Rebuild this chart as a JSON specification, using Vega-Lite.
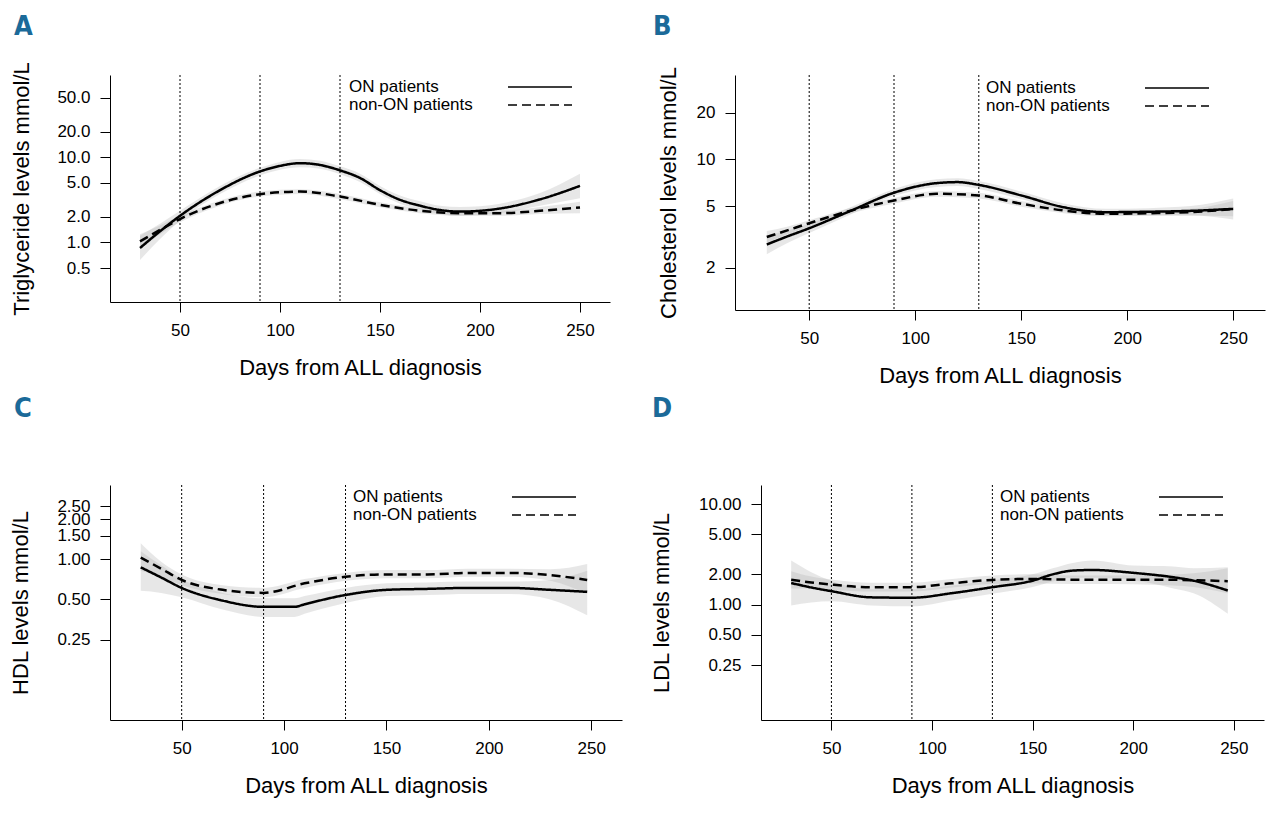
{
  "$schema": "https://vega.github.io/schema/vega-lite/v6.json",
  "background": "white",
  "padding": {"left": 8, "top": 12, "right": 5, "bottom": 5},
  "datasets": {
    "tg": [
      {"group": "ON patients", "day": 30, "est": 0.86, "lower": 0.62, "upper": 1.2},
      {"group": "ON patients", "day": 40, "est": 1.35, "lower": 1.1, "upper": 1.65},
      {"group": "ON patients", "day": 50, "est": 2.05, "lower": 1.8, "upper": 2.35},
      {"group": "ON patients", "day": 70, "est": 4.1, "lower": 3.7, "upper": 4.6},
      {"group": "ON patients", "day": 90, "est": 6.8, "lower": 6.1, "upper": 7.5},
      {"group": "ON patients", "day": 100, "est": 7.9, "lower": 7.1, "upper": 8.8},
      {"group": "ON patients", "day": 110, "est": 8.5, "lower": 7.6, "upper": 9.5},
      {"group": "ON patients", "day": 120, "est": 8.1, "lower": 7.3, "upper": 9.1},
      {"group": "ON patients", "day": 130, "est": 7.0, "lower": 6.3, "upper": 7.8},
      {"group": "ON patients", "day": 140, "est": 5.7, "lower": 5.1, "upper": 6.4},
      {"group": "ON patients", "day": 150, "est": 4.1, "lower": 3.7, "upper": 4.6},
      {"group": "ON patients", "day": 160, "est": 3.16, "lower": 2.85, "upper": 3.55},
      {"group": "ON patients", "day": 170, "est": 2.7, "lower": 2.45, "upper": 3.05},
      {"group": "ON patients", "day": 180, "est": 2.4, "lower": 2.15, "upper": 2.7},
      {"group": "ON patients", "day": 190, "est": 2.3, "lower": 2.05, "upper": 2.6},
      {"group": "ON patients", "day": 200, "est": 2.35, "lower": 2.1, "upper": 2.65},
      {"group": "ON patients", "day": 210, "est": 2.5, "lower": 2.2, "upper": 2.85},
      {"group": "ON patients", "day": 230, "est": 3.2, "lower": 2.7, "upper": 3.8},
      {"group": "ON patients", "day": 250, "est": 4.6, "lower": 3.3, "upper": 6.4},
      {"group": "non-ON patients", "day": 30, "est": 1.03, "lower": 0.85, "upper": 1.25},
      {"group": "non-ON patients", "day": 40, "est": 1.4, "lower": 1.25, "upper": 1.58},
      {"group": "non-ON patients", "day": 50, "est": 1.88, "lower": 1.72, "upper": 2.05},
      {"group": "non-ON patients", "day": 70, "est": 2.9, "lower": 2.7, "upper": 3.1},
      {"group": "non-ON patients", "day": 90, "est": 3.68, "lower": 3.45, "upper": 3.95},
      {"group": "non-ON patients", "day": 110, "est": 3.95, "lower": 3.7, "upper": 4.2},
      {"group": "non-ON patients", "day": 130, "est": 3.45, "lower": 3.2, "upper": 3.7},
      {"group": "non-ON patients", "day": 150, "est": 2.76, "lower": 2.58, "upper": 2.95},
      {"group": "non-ON patients", "day": 170, "est": 2.35, "lower": 2.2, "upper": 2.52},
      {"group": "non-ON patients", "day": 190, "est": 2.2, "lower": 2.05, "upper": 2.36},
      {"group": "non-ON patients", "day": 210, "est": 2.2, "lower": 2.05, "upper": 2.36},
      {"group": "non-ON patients", "day": 230, "est": 2.35, "lower": 2.15, "upper": 2.6},
      {"group": "non-ON patients", "day": 250, "est": 2.57, "lower": 2.2, "upper": 3.0}
    ],
    "chol": [
      {"group": "ON patients", "day": 30, "est": 2.83, "lower": 2.45, "upper": 3.25},
      {"group": "ON patients", "day": 40, "est": 3.2, "lower": 2.9, "upper": 3.5},
      {"group": "ON patients", "day": 50, "est": 3.6, "lower": 3.35, "upper": 3.85},
      {"group": "ON patients", "day": 70, "est": 4.69, "lower": 4.45, "upper": 4.95},
      {"group": "ON patients", "day": 90, "est": 6.1, "lower": 5.8, "upper": 6.45},
      {"group": "ON patients", "day": 110, "est": 7.03, "lower": 6.65, "upper": 7.45},
      {"group": "ON patients", "day": 120, "est": 7.14, "lower": 6.75, "upper": 7.55},
      {"group": "ON patients", "day": 130, "est": 6.85, "lower": 6.45, "upper": 7.25},
      {"group": "ON patients", "day": 150, "est": 5.86, "lower": 5.55, "upper": 6.2},
      {"group": "ON patients", "day": 170, "est": 4.92, "lower": 4.65, "upper": 5.2},
      {"group": "ON patients", "day": 190, "est": 4.57, "lower": 4.35, "upper": 4.8},
      {"group": "ON patients", "day": 210, "est": 4.6, "lower": 4.35, "upper": 4.85},
      {"group": "ON patients", "day": 230, "est": 4.66, "lower": 4.35, "upper": 5.0},
      {"group": "ON patients", "day": 250, "est": 4.8, "lower": 4.1, "upper": 5.6},
      {"group": "non-ON patients", "day": 30, "est": 3.16, "lower": 2.9, "upper": 3.45},
      {"group": "non-ON patients", "day": 40, "est": 3.5, "lower": 3.3, "upper": 3.7},
      {"group": "non-ON patients", "day": 50, "est": 3.88, "lower": 3.7, "upper": 4.05},
      {"group": "non-ON patients", "day": 70, "est": 4.69, "lower": 4.5, "upper": 4.9},
      {"group": "non-ON patients", "day": 90, "est": 5.43, "lower": 5.2, "upper": 5.65},
      {"group": "non-ON patients", "day": 110, "est": 6.0, "lower": 5.75, "upper": 6.25},
      {"group": "non-ON patients", "day": 130, "est": 5.86, "lower": 5.6, "upper": 6.1},
      {"group": "non-ON patients", "day": 150, "est": 5.18, "lower": 4.95, "upper": 5.4},
      {"group": "non-ON patients", "day": 170, "est": 4.69, "lower": 4.5, "upper": 4.9},
      {"group": "non-ON patients", "day": 190, "est": 4.46, "lower": 4.3, "upper": 4.65},
      {"group": "non-ON patients", "day": 210, "est": 4.5, "lower": 4.33, "upper": 4.68},
      {"group": "non-ON patients", "day": 230, "est": 4.57, "lower": 4.35, "upper": 4.8},
      {"group": "non-ON patients", "day": 250, "est": 4.8, "lower": 4.3, "upper": 5.4}
    ],
    "hdl": [
      {"group": "ON patients", "day": 30, "est": 0.87, "lower": 0.58, "upper": 1.15},
      {"group": "ON patients", "day": 40, "est": 0.73, "lower": 0.56, "upper": 0.9},
      {"group": "ON patients", "day": 50, "est": 0.61, "lower": 0.52, "upper": 0.71},
      {"group": "ON patients", "day": 70, "est": 0.49, "lower": 0.42, "upper": 0.56},
      {"group": "ON patients", "day": 90, "est": 0.44, "lower": 0.37, "upper": 0.51},
      {"group": "ON patients", "day": 105, "est": 0.44, "lower": 0.37, "upper": 0.51},
      {"group": "ON patients", "day": 110, "est": 0.46, "lower": 0.39, "upper": 0.53},
      {"group": "ON patients", "day": 130, "est": 0.54, "lower": 0.47, "upper": 0.61},
      {"group": "ON patients", "day": 150, "est": 0.59, "lower": 0.53, "upper": 0.66},
      {"group": "ON patients", "day": 170, "est": 0.6, "lower": 0.54, "upper": 0.67},
      {"group": "ON patients", "day": 190, "est": 0.61, "lower": 0.55, "upper": 0.68},
      {"group": "ON patients", "day": 210, "est": 0.61, "lower": 0.55, "upper": 0.68},
      {"group": "ON patients", "day": 230, "est": 0.59, "lower": 0.5, "upper": 0.7},
      {"group": "ON patients", "day": 248, "est": 0.57, "lower": 0.38, "upper": 0.82},
      {"group": "non-ON patients", "day": 30, "est": 1.03, "lower": 0.82, "upper": 1.32},
      {"group": "non-ON patients", "day": 40, "est": 0.85, "lower": 0.74, "upper": 0.96},
      {"group": "non-ON patients", "day": 50, "est": 0.7, "lower": 0.64, "upper": 0.77},
      {"group": "non-ON patients", "day": 70, "est": 0.59, "lower": 0.55, "upper": 0.64},
      {"group": "non-ON patients", "day": 90, "est": 0.56, "lower": 0.52, "upper": 0.61},
      {"group": "non-ON patients", "day": 110, "est": 0.66, "lower": 0.61, "upper": 0.71},
      {"group": "non-ON patients", "day": 130, "est": 0.74, "lower": 0.69, "upper": 0.79},
      {"group": "non-ON patients", "day": 150, "est": 0.77, "lower": 0.72, "upper": 0.83},
      {"group": "non-ON patients", "day": 170, "est": 0.77, "lower": 0.72, "upper": 0.83},
      {"group": "non-ON patients", "day": 190, "est": 0.79, "lower": 0.74, "upper": 0.85},
      {"group": "non-ON patients", "day": 210, "est": 0.79, "lower": 0.74, "upper": 0.85},
      {"group": "non-ON patients", "day": 230, "est": 0.76, "lower": 0.69, "upper": 0.84},
      {"group": "non-ON patients", "day": 248, "est": 0.7, "lower": 0.55, "upper": 0.92}
    ],
    "ldl": [
      {"group": "ON patients", "day": 30, "est": 1.64, "lower": 0.98, "upper": 2.74},
      {"group": "ON patients", "day": 40, "est": 1.48, "lower": 1.05, "upper": 2.1},
      {"group": "ON patients", "day": 50, "est": 1.36, "lower": 1.08, "upper": 1.72},
      {"group": "ON patients", "day": 70, "est": 1.18, "lower": 0.98, "upper": 1.42},
      {"group": "ON patients", "day": 90, "est": 1.17, "lower": 0.96, "upper": 1.42},
      {"group": "ON patients", "day": 110, "est": 1.3, "lower": 1.1, "upper": 1.55},
      {"group": "ON patients", "day": 130, "est": 1.49, "lower": 1.28, "upper": 1.75},
      {"group": "ON patients", "day": 150, "est": 1.73, "lower": 1.5, "upper": 2.0},
      {"group": "ON patients", "day": 160, "est": 2.0, "lower": 1.7, "upper": 2.3},
      {"group": "ON patients", "day": 170, "est": 2.18, "lower": 1.85, "upper": 2.6},
      {"group": "ON patients", "day": 180, "est": 2.21, "lower": 1.85, "upper": 2.75},
      {"group": "ON patients", "day": 200, "est": 2.07, "lower": 1.75, "upper": 2.45},
      {"group": "ON patients", "day": 220, "est": 1.87, "lower": 1.45, "upper": 2.4},
      {"group": "ON patients", "day": 230, "est": 1.73, "lower": 1.3, "upper": 2.3},
      {"group": "ON patients", "day": 247, "est": 1.38, "lower": 0.81, "upper": 2.35},
      {"group": "non-ON patients", "day": 30, "est": 1.77, "lower": 1.45, "upper": 2.15},
      {"group": "non-ON patients", "day": 40, "est": 1.66, "lower": 1.45, "upper": 1.9},
      {"group": "non-ON patients", "day": 50, "est": 1.58, "lower": 1.4, "upper": 1.78},
      {"group": "non-ON patients", "day": 70, "est": 1.49, "lower": 1.35, "upper": 1.65},
      {"group": "non-ON patients", "day": 90, "est": 1.49, "lower": 1.35, "upper": 1.65},
      {"group": "non-ON patients", "day": 110, "est": 1.63, "lower": 1.48, "upper": 1.8},
      {"group": "non-ON patients", "day": 130, "est": 1.76, "lower": 1.6, "upper": 1.95},
      {"group": "non-ON patients", "day": 150, "est": 1.8, "lower": 1.62, "upper": 2.0},
      {"group": "non-ON patients", "day": 170, "est": 1.77, "lower": 1.6, "upper": 1.95},
      {"group": "non-ON patients", "day": 190, "est": 1.77, "lower": 1.6, "upper": 1.95},
      {"group": "non-ON patients", "day": 210, "est": 1.77, "lower": 1.58, "upper": 1.97},
      {"group": "non-ON patients", "day": 230, "est": 1.75, "lower": 1.5, "upper": 2.05},
      {"group": "non-ON patients", "day": 247, "est": 1.71, "lower": 1.3, "upper": 2.3}
    ],
    "phases": [{"day": 50}, {"day": 90}, {"day": 130}]
  },
  "spacing": 410,
  "bounds": "flush",
  "resolve": {"scale": {"strokeDash": "independent"}, "legend": {"strokeDash": "independent"}},
  "vconcat": [
    {
      "spacing": 125,
      "bounds": "flush",
      "resolve": {"scale": {"strokeDash": "independent"}, "legend": {"strokeDash": "independent"}},
      "hconcat": [
        {
          "width": 500,
          "height": 227,
          "title": {"text": "A", "dx": -96, "offset": 21},
          "layer": [
            {
              "data": {"name": "tg"},
              "mark": {"type": "area", "interpolate": "monotone", "fill": "#b0b0b0", "opacity": 0.3},
              "encoding": {
                "x": {"field": "day", "type": "quantitative", "scale": {"domain": [15, 265], "nice": false}, "axis": {"values": [50, 100, 150, 200, 250], "format": "d", "title": "Days from ALL diagnosis"}},
                "y": {"field": "lower", "type": "quantitative", "scale": {"type": "log", "domain": [0.2, 92], "nice": false}, "axis": {"values": [0.5, 1, 2, 5, 10, 20, 50], "format": ".1f", "title": "Triglyceride levels mmol/L", "titleX": -89}},
                "y2": {"field": "upper"},
                "detail": {"field": "group"}
              }
            },
            {
              "data": {"name": "tg"},
              "mark": {"type": "line", "interpolate": "monotone", "color": "black", "strokeWidth": 2.5},
              "encoding": {
                "x": {"field": "day", "type": "quantitative"},
                "y": {"field": "est", "type": "quantitative", "axis": {"values": [0.5, 1, 2, 5, 10, 20, 50], "format": ".1f", "title": "Triglyceride levels mmol/L", "titleX": -89}},
                "strokeDash": {"field": "group", "type": "nominal", "scale": {"domain": ["ON patients", "non-ON patients"], "range": [[1, 0], [9, 5]]}, "legend": {"legendX": 421, "legendY": 3}}
              }
            },
            {
              "data": {"name": "phases"},
              "mark": {"type": "rule", "color": "black", "strokeWidth": 1, "strokeDash": [2, 2]},
              "encoding": {"x": {"field": "day", "type": "quantitative"}}
            }
          ]
        },
        {
          "width": 530,
          "height": 235,
          "title": {"text": "B", "dx": -82, "offset": 26},
          "layer": [
            {
              "data": {"name": "chol"},
              "mark": {"type": "area", "interpolate": "monotone", "fill": "#b0b0b0", "opacity": 0.3},
              "encoding": {
                "x": {"field": "day", "type": "quantitative", "scale": {"domain": [15, 265], "nice": false}, "axis": {"values": [50, 100, 150, 200, 250], "format": "d", "title": "Days from ALL diagnosis"}},
                "y": {"field": "lower", "type": "quantitative", "scale": {"type": "log", "domain": [1.07, 35], "nice": false}, "axis": {"values": [2, 5, 10, 20], "format": "d", "title": "Cholesterol levels mmol/L", "titleX": -67}},
                "y2": {"field": "upper"},
                "detail": {"field": "group"}
              }
            },
            {
              "data": {"name": "chol"},
              "mark": {"type": "line", "interpolate": "monotone", "color": "black", "strokeWidth": 2.5},
              "encoding": {
                "x": {"field": "day", "type": "quantitative"},
                "y": {"field": "est", "type": "quantitative", "axis": {"values": [2, 5, 10, 20], "format": "d", "title": "Cholesterol levels mmol/L", "titleX": -67}},
                "strokeDash": {"field": "group", "type": "nominal", "scale": {"domain": ["ON patients", "non-ON patients"], "range": [[1, 0], [9, 5]]}, "legend": {"legendX": 433, "legendY": 4}}
              }
            },
            {
              "data": {"name": "phases"},
              "mark": {"type": "rule", "color": "black", "strokeWidth": 1, "strokeDash": [2, 2]},
              "encoding": {"x": {"field": "day", "type": "quantitative"}}
            }
          ]
        }
      ]
    },
    {
      "spacing": 139,
      "bounds": "flush",
      "resolve": {"scale": {"strokeDash": "independent"}, "legend": {"strokeDash": "independent"}},
      "hconcat": [
        {
          "width": 512,
          "height": 235,
          "title": {"text": "C", "dx": -96, "offset": 62},
          "layer": [
            {
              "data": {"name": "hdl"},
              "mark": {"type": "area", "interpolate": "monotone", "fill": "#b0b0b0", "opacity": 0.3},
              "encoding": {
                "x": {"field": "day", "type": "quantitative", "scale": {"domain": [15, 265], "nice": false}, "axis": {"values": [50, 100, 150, 200, 250], "format": "d", "title": "Days from ALL diagnosis"}},
                "y": {"field": "lower", "type": "quantitative", "scale": {"type": "log", "domain": [0.0625, 3.6], "nice": false}, "axis": {"values": [0.25, 0.5, 1, 1.5, 2, 2.5], "format": ".2f", "title": "HDL levels mmol/L", "titleX": -90}},
                "y2": {"field": "upper"},
                "detail": {"field": "group"}
              }
            },
            {
              "data": {"name": "hdl"},
              "mark": {"type": "line", "interpolate": "monotone", "color": "black", "strokeWidth": 2.5},
              "encoding": {
                "x": {"field": "day", "type": "quantitative"},
                "y": {"field": "est", "type": "quantitative", "axis": {"values": [0.25, 0.5, 1, 1.5, 2, 2.5], "format": ".2f", "title": "HDL levels mmol/L", "titleX": -90}},
                "strokeDash": {"field": "group", "type": "nominal", "scale": {"domain": ["ON patients", "non-ON patients"], "range": [[1, 0], [9, 5]]}, "legend": {"legendX": 425, "legendY": 3}}
              }
            },
            {
              "data": {"name": "phases"},
              "mark": {"type": "rule", "color": "black", "strokeWidth": 1, "strokeDash": [2, 2]},
              "encoding": {"x": {"field": "day", "type": "quantitative"}}
            }
          ]
        },
        {
          "width": 503,
          "height": 235,
          "title": {"text": "D", "dx": -109, "offset": 62},
          "layer": [
            {
              "data": {"name": "ldl"},
              "mark": {"type": "area", "interpolate": "monotone", "fill": "#b0b0b0", "opacity": 0.3},
              "encoding": {
                "x": {"field": "day", "type": "quantitative", "scale": {"domain": [15, 265], "nice": false}, "axis": {"values": [50, 100, 150, 200, 250], "format": "d", "title": "Days from ALL diagnosis"}},
                "y": {"field": "lower", "type": "quantitative", "scale": {"type": "log", "domain": [0.071, 15.5], "nice": false}, "axis": {"values": [0.25, 0.5, 1, 2, 5, 10], "format": ".2f", "title": "LDL levels mmol/L", "titleX": -100}},
                "y2": {"field": "upper"},
                "detail": {"field": "group"}
              }
            },
            {
              "data": {"name": "ldl"},
              "mark": {"type": "line", "interpolate": "monotone", "color": "black", "strokeWidth": 2.5},
              "encoding": {
                "x": {"field": "day", "type": "quantitative"},
                "y": {"field": "est", "type": "quantitative", "axis": {"values": [0.25, 0.5, 1, 2, 5, 10], "format": ".2f", "title": "LDL levels mmol/L", "titleX": -100}},
                "strokeDash": {"field": "group", "type": "nominal", "scale": {"domain": ["ON patients", "non-ON patients"], "range": [[1, 0], [9, 5]]}, "legend": {"legendX": 421, "legendY": 3}}
              }
            },
            {
              "data": {"name": "phases"},
              "mark": {"type": "rule", "color": "black", "strokeWidth": 1, "strokeDash": [2, 2]},
              "encoding": {"x": {"field": "day", "type": "quantitative"}}
            }
          ]
        }
      ]
    }
  ],
  "config": {
    "view": {"stroke": null},
    "font": "Liberation Sans",
    "title": {"font": "Liberation Sans Narrow, DejaVu Sans Condensed, Liberation Sans", "fontSize": 27, "fontWeight": "bold", "color": "#1b6a99", "anchor": "start", "frame": "group", "baseline": "alphabetic"},
    "axis": {
      "grid": false,
      "domainColor": "black",
      "domainWidth": 1,
      "tickColor": "black",
      "tickWidth": 1,
      "tickSize": 10,
      "labelColor": "black",
      "labelFont": "Liberation Sans",
      "labelFontSize": 17,
      "labelPadding": 10,
      "labelOverlap": false,
      "labelFlush": false,
      "labelAngle": 0,
      "titleColor": "black",
      "titleFont": "Liberation Sans",
      "titleFontSize": 22,
      "titleFontWeight": "normal"
    },
    "axisX": {"titlePadding": 19},
    "axisY": {"titleBaseline": "middle"},
    "legend": {
      "orient": "none",
      "title": null,
      "padding": 0,
      "symbolType": "M-4,0H4",
      "symbolSize": 256,
      "symbolStrokeWidth": 1.5,
      "symbolStrokeColor": "black",
      "symbolFillColor": "transparent",
      "labelAlign": "left",
      "labelOffset": -200,
      "labelFont": "Liberation Sans",
      "labelFontSize": 17,
      "labelColor": "black",
      "labelLimit": 400,
      "rowPadding": 1
    }
  }
}
